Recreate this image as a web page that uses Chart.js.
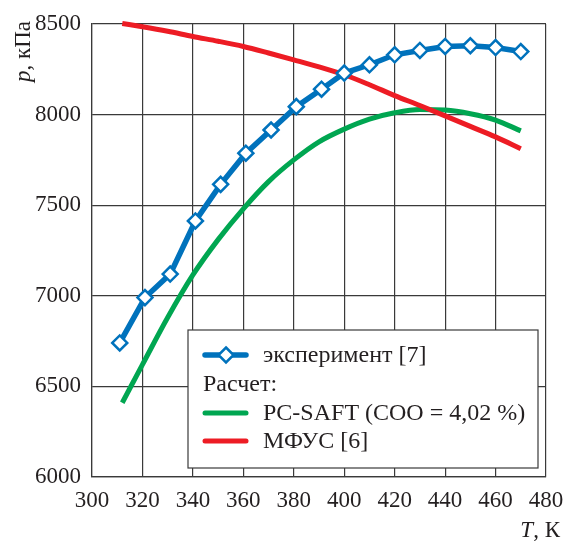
<!DOCTYPE html>
<html>
<head>
<meta charset="utf-8">
<script src="https://cdn.jsdelivr.net/npm/chart.js@4.4.1/dist/chart.umd.min.js"></script>
<style>
  html, body { margin: 0; padding: 0; background: #fff; }
  #wrap { width: 564px; height: 543px; position: relative; }
</style>
</head>
<body>
<div id="wrap"><canvas id="chart"></canvas></div>
<script>
var FONT = '"Liberation Serif", "Times New Roman", serif'
var INK = '#231f20'
var GRID = '#3a3a3a'
var BLUE = '#0072bc'
var GREEN = '#00a651'
var RED = '#ed1c24'

// experiment [7]
var expT = [311, 321, 331, 341, 351, 361, 371, 381, 391, 400, 410, 420, 430, 440, 450, 460, 470]
var expP = [6740, 6990, 7120, 7413, 7615, 7787, 7915, 8044, 8140, 8229, 8275, 8330, 8354, 8376, 8380, 8370, 8348]

// calculated curves
var calcT = [312, 320, 330, 340, 350, 360, 370, 380, 390, 400, 410, 420, 430, 440, 450, 460, 470]
var saftP = [6410, 6620, 6880, 7115, 7310, 7480, 7630, 7750, 7850, 7920, 7975, 8010, 8028, 8025, 8005, 7970, 7910]
var mfusP = [8503, 8485, 8460, 8431, 8405, 8376, 8340, 8302, 8263, 8220, 8165, 8105, 8050, 7993, 7935, 7877, 7812]

var xTicks = [300, 320, 340, 360, 380, 400, 420, 440, 460, 480]
var yTicks = [6000, 6500, 7000, 7500, 8000, 8500]

var labels = ['эксперимент [7]', 'PC-SAFT (COO = 4,02 %)', 'МФУС [6]']
var legendHeader = 'Расчет:'
var yTitle = ['p', ', кПа']
var xTitle = ['T', ', К']

function zip(xs, ys) {
  return xs.map(function (x, i) { return { x: x, y: ys[i] } })
}

Chart.defaults.font.family = FONT
Chart.defaults.color = INK

// legend box + axis titles
var decor = {
  id: 'decor',
  afterDatasetsDraw: function (chart) {
    var ctx = chart.ctx
    var a = chart.chartArea
    var ds = chart.data.datasets
    ctx.save()

    // legend frame
    var bx = a.left + 96, by = a.top + 306, bw = 350, bh = 138
    ctx.fillStyle = '#fff'
    ctx.fillRect(bx, by, bw, bh)
    ctx.strokeStyle = GRID
    ctx.lineWidth = 1.2
    ctx.strokeRect(bx, by, bw, bh)

    ctx.font = '24px ' + FONT
    ctx.textBaseline = 'middle'
    ctx.fillStyle = INK
    var rows = [
      { ds: 0, y: by + 25 },
      { text: legendHeader, y: by + 54 },
      { ds: 1, y: by + 83 },
      { ds: 2, y: by + 111 }
    ]
    rows.forEach(function (r) {
      if (r.ds === undefined) {
        ctx.fillStyle = INK
        ctx.fillText(r.text, bx + 15, r.y + 1)
        return
      }
      var d = ds[r.ds]
      ctx.strokeStyle = d.borderColor
      ctx.lineWidth = d.borderWidth
      ctx.lineCap = 'round'
      ctx.beginPath()
      ctx.moveTo(bx + 17, r.y)
      ctx.lineTo(bx + 58, r.y)
      ctx.stroke()
      if (d.pointRadius) {
        var pr = d.pointRadius
        ctx.fillStyle = d.pointBackgroundColor
        ctx.strokeStyle = d.pointBorderColor
        ctx.lineWidth = d.pointBorderWidth
        ctx.beginPath()
        ctx.moveTo(bx + 38, r.y - pr)
        ctx.lineTo(bx + 38 + pr, r.y)
        ctx.lineTo(bx + 38, r.y + pr)
        ctx.lineTo(bx + 38 - pr, r.y)
        ctx.closePath()
        ctx.fill()
        ctx.stroke()
      }
      ctx.fillStyle = INK
      ctx.fillText(d.label, bx + 75, r.y + 1)
    })

    // y title, rotated
    ctx.font = 'italic 23px ' + FONT
    var w0 = ctx.measureText(yTitle[0]).width
    ctx.translate(30, a.top + 58)
    ctx.rotate(-Math.PI / 2)
    ctx.textBaseline = 'alphabetic'
    ctx.textAlign = 'left'
    ctx.fillText(yTitle[0], 0, 0)
    ctx.font = '23px ' + FONT
    ctx.fillText(yTitle[1], w0, 0)
    ctx.setTransform(1, 0, 0, 1, 0, 0)

    // x title, right aligned under the last tick
    ctx.font = '23px ' + FONT
    var w1 = ctx.measureText(xTitle[1]).width
    ctx.font = 'italic 23px ' + FONT
    var wt = ctx.measureText(xTitle[0]).width
    var x0 = 560 - w1 - wt
    ctx.fillText(xTitle[0], x0, 537)
    ctx.font = '23px ' + FONT
    ctx.fillText(xTitle[1], x0 + wt, 537)

    ctx.restore()
  }
}

var tickFont = { family: FONT, size: 23 }
function plain(v) { return String(v) }

new Chart(document.getElementById('chart'), {
  type: 'line',
  data: {
    datasets: [
      {
        label: labels[0], data: zip(expT, expP), order: 0,
        borderColor: BLUE, borderWidth: 5.5, tension: 0,
        pointStyle: 'rectRot', pointRadius: 7.5, pointBorderWidth: 2.5,
        pointBackgroundColor: '#fff', pointBorderColor: BLUE, clip: 10
      },
      {
        label: labels[1], data: zip(calcT, saftP), order: 2,
        borderColor: GREEN, borderWidth: 5, pointRadius: 0,
        cubicInterpolationMode: 'monotone', clip: 10
      },
      {
        label: labels[2], data: zip(calcT, mfusP), order: 1,
        borderColor: RED, borderWidth: 5, pointRadius: 0,
        cubicInterpolationMode: 'monotone', clip: 10
      }
    ]
  },
  options: {
    responsive: true,
    maintainAspectRatio: false,
    animation: false,
    layout: { padding: { top: 24, right: 18, left: 0, bottom: 0 } },
    plugins: { legend: { display: false }, tooltip: { enabled: false } },
    scales: {
      x: {
        type: 'linear', min: xTicks[0], max: xTicks[xTicks.length - 1],
        afterBuildTicks: function (s) { s.ticks = xTicks.map(function (v) { return { value: v } }) },
        afterFit: function (s) { s.height = 66; s.paddingLeft = 0; s.paddingRight = 0 },
        ticks: { font: tickFont, color: INK, padding: 10, maxRotation: 0, autoSkip: false, callback: plain },
        grid: { color: GRID, lineWidth: 1.2, drawTicks: false },
        border: { color: GRID, width: 1.2 }
      },
      y: {
        type: 'linear', min: yTicks[0], max: yTicks[yTicks.length - 1],
        afterBuildTicks: function (s) { s.ticks = yTicks.map(function (v) { return { value: v } }) },
        afterFit: function (s) { s.width = 92; s.paddingTop = 0; s.paddingBottom = 0 },
        ticks: { font: tickFont, color: INK, padding: 11, callback: plain },
        grid: { color: GRID, lineWidth: 1.2, drawTicks: false },
        border: { color: GRID, width: 1.2 }
      }
    }
  },
  plugins: [decor]
})
</script>
</body>
</html>
